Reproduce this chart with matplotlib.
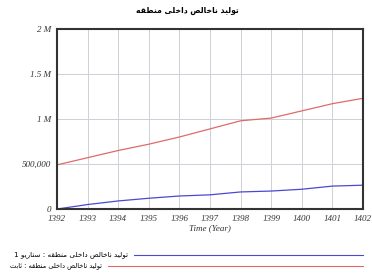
import numpy as np
import matplotlib.pyplot as plt

years = [1392, 1393, 1394, 1395, 1396, 1397, 1398, 1399, 1400, 1401, 1402]
gdp_base = [490000, 570000, 650000, 720000, 800000, 890000, 980000, 1010000, 1090000, 1170000, 1230000]
gdp_scn = [0, 50000, 90000, 120000, 145000, 158000, 190000, 200000, 220000, 255000, 265000]
yticks = [0, 500000, 1000000, 1500000, 2000000]
ytick_labels = ['0', '500,000', '1 M', '1.5 M', '2 M']

title = 'تولید ناخالص داخلی منطقه'
label_scn = 'تولید ناخالص داخلی منطقه : سناریو 1'
label_base = 'تولید ناخالص داخلی منطقه : ثابت'

# simple arabic shaping (matplotlib has no shaping engine)
forms = {
    'ا': (0xFE8D, 0xFE8E, None, None), 'د': (0xFEA9, 0xFEAA, None, None),
    'ر': (0xFEAD, 0xFEAE, None, None), 'و': (0xFEED, 0xFEEE, None, None),
    'ب': (0xFE8F, 0xFE90, 0xFE91, 0xFE92), 'ت': (0xFE95, 0xFE96, 0xFE97, 0xFE98),
    'ث': (0xFE99, 0xFE9A, 0xFE9B, 0xFE9C), 'خ': (0xFEA5, 0xFEA6, 0xFEA7, 0xFEA8),
    'س': (0xFEB1, 0xFEB2, 0xFEB3, 0xFEB4), 'ص': (0xFEB9, 0xFEBA, 0xFEBB, 0xFEBC),
    'ط': (0xFEC1, 0xFEC2, 0xFEC3, 0xFEC4), 'ق': (0xFED5, 0xFED6, 0xFED7, 0xFED8),
    'ل': (0xFEDD, 0xFEDE, 0xFEDF, 0xFEE0), 'م': (0xFEE1, 0xFEE2, 0xFEE3, 0xFEE4),
    'ن': (0xFEE5, 0xFEE6, 0xFEE7, 0xFEE8), 'ه': (0xFEE9, 0xFEEA, 0xFEEB, 0xFEEC),
    'ی': (0xFEEF, 0xFEF0, 0xFEF3, 0xFEF4),
}


def shape(s):
    out = []
    for i, c in enumerate(s):
        if c not in forms:
            out.append(c)
            continue
        prev = s[i - 1] if i > 0 else ''
        nxt = s[i + 1] if i + 1 < len(s) else ''
        join_prev = prev in forms and forms[prev][2] is not None
        join_next = nxt in forms and forms[c][2] is not None
        iso, fin, ini, med = forms[c]
        if join_prev and join_next:
            out.append(chr(med))
        elif join_prev:
            out.append(chr(fin))
        elif join_next:
            out.append(chr(ini))
        else:
            out.append(chr(iso))
    return ''.join(out)[::-1]


fig = plt.figure(figsize=(3.72, 2.78), dpi=100)
ax = fig.add_axes([0.153, 0.248, 0.823, 0.648])

ax.plot(years, gdp_base, color='#e06a6a', lw=0.9)
ax.plot(years, gdp_scn, color='#4a4ad0', lw=0.9)

ax.set_xlim(years[0], years[-1])
ax.set_ylim(0, 2000000)
ax.set_xticks(years)
ax.set_yticks(yticks)
ax.set_yticklabels(ytick_labels)
ax.grid(True, color='#cfcfd8', lw=0.7)
for s in ax.spines.values():
    s.set_linewidth(1.5)
    s.set_color('#333333')
ax.tick_params(length=0, pad=4, labelsize=6.5, labelcolor='#333333')
for t in ax.get_xticklabels() + ax.get_yticklabels():
    t.set_family('Liberation Serif')
    t.set_style('italic')
ax.set_xlabel('Time (Year)', family='Liberation Serif', style='italic', fontsize=6.5,
              color='#333333', labelpad=1)

fig.text(0.505, 0.962, shape(title), ha='center', va='center', fontsize=5.5,
         fontweight='bold', family='DejaVu Sans')

# legend rows
fig.text(0.345, 0.083, shape(label_scn), ha='right', va='center', fontsize=5.2, family='DejaVu Sans')
fig.text(0.275, 0.043, shape(label_base), ha='right', va='center', fontsize=4.8, family='DejaVu Sans')
fig.add_artist(plt.Line2D([0.36, 0.976], [0.083, 0.083], color='#4a4ad0', lw=0.8))
fig.add_artist(plt.Line2D([0.29, 0.976], [0.043, 0.043], color='#e06a6a', lw=0.8))

fig.savefig('out.png', dpi=100)
